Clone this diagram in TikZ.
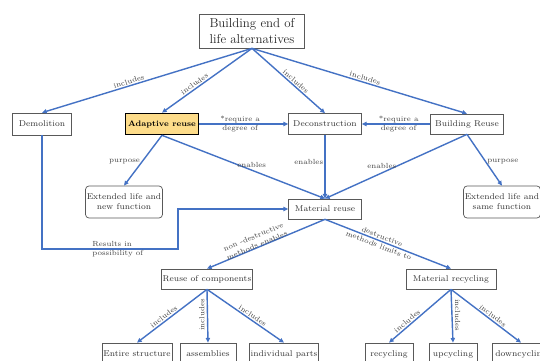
\documentclass[tikz,border=0pt]{standalone}
\usepackage{tikz}
\usetikzlibrary{arrows.meta}
\definecolor{linkblue}{HTML}{4472C4}
\definecolor{adaptfill}{HTML}{FDDC8A}
\tikzset{
	box/.style={draw=black!65, line width=0.6pt, fill=white, text=black!80, font=\fontsize{7.2}{8.6}\selectfont, inner sep=1pt, align=center},
	softbox/.style={box, rounded corners=3pt},
	keybox/.style={box, draw=black, line width=1.4pt, fill=adaptfill, text=black, font=\fontsize{6.8}{8}\selectfont\bfseries},
	link/.style={draw=linkblue, line width=1.2pt, -{Triangle[length=4pt,width=3.6pt]}},
	rel/.style={text=black!75, font=\fontsize{6.3}{8}\selectfont, inner sep=1pt, align=center}
}

\begin{document}
\begin{tikzpicture}[x=0.3mm, y=-0.3mm]
			%%%%% START %%%%%
			\clip (0, 0) rectangle (540, 361);
			
			% top row
			\node[box, minimum width=31.5mm, minimum height=10.2mm, font=\fontsize{11}{13}\selectfont, text=black!85] (top) at (252, 31) {Building end of\\life alternatives};
			
			\node[box, minimum width=17.7mm, minimum height=6.6mm] (demo) at (42, 124) {Demolition};
			\node[keybox, minimum width=21.9mm, minimum height=6.3mm] (adapt) at (162, 124) {Adaptive reuse};
			\node[box, minimum width=21.9mm, minimum height=6.3mm] (decon) at (325, 124) {Deconstruction};
			\node[box, minimum width=21.9mm, minimum height=6.0mm] (breuse) at (467, 124) {Building Reuse};
			
			% middle row
			\node[softbox, minimum width=23.1mm, minimum height=9.6mm] (extnew) at (124, 202) {Extended life and\\new function};
			\node[softbox, minimum width=22.2mm, minimum height=9.6mm] (extsame) at (502, 202) {Extended life and\\same function};
			\node[box, minimum width=21.9mm, minimum height=6.0mm] (mreuse) at (325, 209) {Material reuse};
			
			\node[box, minimum width=27mm, minimum height=6.0mm] (rcomp) at (207, 279) {Reuse of components};
			\node[box, minimum width=27mm, minimum height=6.0mm] (mrecyc) at (451, 279) {Material recycling};
			
			% bottom row
			\node[box, minimum width=21.0mm, minimum height=6.6mm] (entire) at (137, 354) {Entire structure};
			\node[box, minimum width=16.8mm, minimum height=6.6mm] (assem) at (208, 354) {assemblies};
			\node[box, minimum width=20.4mm, minimum height=6.6mm] (indiv) at (284, 354) {individual parts};
			\node[box, minimum width=14.4mm, minimum height=6.6mm] (recyc) at (389, 354) {recycling};
			\node[box, minimum width=14.4mm, minimum height=6.6mm] (upcyc) at (453, 354) {upcycling};
			\node[box, minimum width=17.4mm, minimum height=6.6mm] (downcyc) at (521, 354) {downcycling};
			
			% alternatives
			\draw[link] (top.south) -- node[rel, sloped, above, pos=0.58] {includes} (demo.north);
			\draw[link] (top.south) -- node[rel, sloped, above, pos=0.61] {includes} (adapt.north);
			\draw[link] (top.south) -- node[rel, sloped, above, pos=0.56] {includes} (decon.north);
			\draw[link] (top.south) -- node[rel, sloped, above, pos=0.52] {includes} (breuse.north);
			
			\draw[link] (adapt.east) -- node[rel, pos=0.46] {*require a\\degree of} (decon.west);
			\draw[link] (breuse.west) -- node[rel, pos=0.46] {*require a\\degree of} (decon.east);
			
			\draw[link] (adapt.south) -- node[rel, left, pos=0.53] {purpose} (extnew.north);
			\draw[link] (breuse.south) -- node[rel, right, pos=0.53] {purpose} (extsame.north);
			
			\draw[link] (adapt.south) -- node[rel, above=1pt, pos=0.55] {enables} (mreuse.north);
			\draw[link] (decon.south) -- node[rel, left, pos=0.42] {enables} (mreuse.north);
			\draw[link] (breuse.south) -- node[rel, above=2pt, pos=0.6] {enables} (mreuse.north);
			
			\coordinate (dstep) at (178, 249);
			\draw[link] (demo.south) |- (dstep) |- (mreuse.west);
			\node[rel, align=left, anchor=west] (result) at (91, 249) {Results in\\possibility of};
			
			% material reuse
			\draw[link] (mreuse.south) -- node[rel, sloped, above=-2pt, pos=0.57] {non -destructive\\methods enables} (rcomp.north);
			\draw[link] (mreuse.south) -- node[rel, sloped, pos=0.44] {destructive\\methods limits to} (mrecyc.north);
			
			\draw[link] (rcomp.south) -- node[rel, sloped, above, pos=0.58] {includes} (entire.north);
			\draw[link] (rcomp.south) -- node[rel, rotate=90, anchor=south, inner sep=2pt, pos=0.48] {includes} (assem.north);
			\draw[link] (rcomp.south) -- node[rel, sloped, above, pos=0.56] {includes} (indiv.north);
			
			\draw[link] (mrecyc.south) -- node[rel, sloped, above, pos=0.66] {includes} (recyc.north);
			\draw[link] (mrecyc.south) -- node[rel, rotate=-90, anchor=south, inner sep=2pt, pos=0.48] {includes} (upcyc.north);
			\draw[link] (mrecyc.south) -- node[rel, sloped, above, pos=0.56] {includes} (downcyc.north);
			
			%%%%% END %%%%%
\end{tikzpicture}
\end{document}
